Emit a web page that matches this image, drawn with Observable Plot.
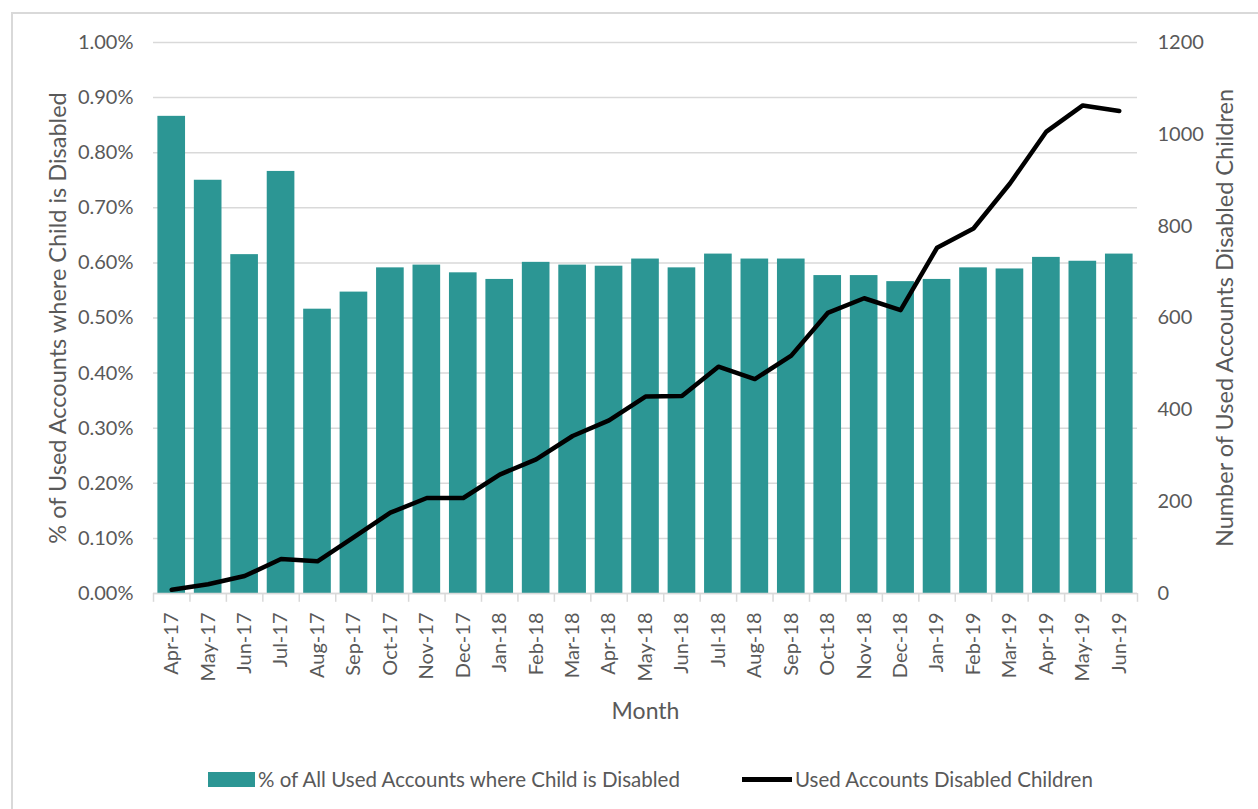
<!DOCTYPE html>
<html>
<head>
<meta charset="utf-8">
<script src="https://cdn.jsdelivr.net/npm/d3@7"></script>
<script src="https://cdn.jsdelivr.net/npm/@observablehq/plot@0.6"></script>
<style>
  body { margin: 0; background: #fff; font-family: Lato, "Open Sans", sans-serif; }
  #wrap { position: relative; width: 1258px; height: 809px; overflow: hidden; background: #fff; }
  #frame { position: absolute; left: 11px; top: 12px; width: 1300px; height: 900px; border: 2px solid #d9d9d9; box-sizing: border-box; }
  #chart { position: absolute; left: 0; top: 0; }
  .lg { position: absolute; top: 765px; font-size: 20.5px; color: #595959; white-space: nowrap; line-height: 28px; }
  .sw { position: absolute; }
</style>
</head>
<body>
<div id="wrap">
  <div id="frame"></div>
  <div id="chart"></div>
  <div id="legend"></div>
</div>
<script>
// ---- data ----
const months = ["Apr-17","May-17","Jun-17","Jul-17","Aug-17","Sep-17","Oct-17","Nov-17","Dec-17",
  "Jan-18","Feb-18","Mar-18","Apr-18","May-18","Jun-18","Jul-18","Aug-18","Sep-18","Oct-18","Nov-18","Dec-18",
  "Jan-19","Feb-19","Mar-19","Apr-19","May-19","Jun-19"];
// % of all used accounts where child is disabled (percent units)
const pctDisabled = [0.866,0.750,0.615,0.766,0.516,0.547,0.591,0.596,0.582,
  0.570,0.601,0.596,0.594,0.607,0.591,0.616,0.607,0.607,0.577,0.577,0.566,
  0.570,0.591,0.589,0.610,0.603,0.616];
// number of used accounts disabled children
const countDisabled = [8,20,38,75,70,123,176,208,208,
  259,292,343,377,429,430,494,467,518,611,643,617,
  753,795,893,1006,1063,1051];
const leftTicks = [0,0.1,0.2,0.3,0.4,0.5,0.6,0.7,0.8,0.9,1.0];
const rightTicks = [0,200,400,600,800,1000,1200];
const leftMax = 1.0, rightMax = 1200;
const barName = "% of All Used Accounts where Child is Disabled";
const lineName = "Used Accounts Disabled Children";
const leftTitle = "% of Used Accounts where Child is Disabled";
const rightTitle = "Number of Used Accounts Disabled Children";
const xTitle = "Month";

const data = months.map((m, i) => ({month: m, pct: pctDisabled[i], count: countDisabled[i]}));
const toLeft = v => v / rightMax * leftMax;

const teal = "#2C9694";
const grid = "#d9d9d9";
const txt = "#595959";
const halfStep = 984 / months.length / 2;

const chart = Plot.plot({
  width: 1258,
  height: 740,
  marginTop: 42,
  marginBottom: 147,
  marginLeft: 153,
  marginRight: 121,
  style: {fontFamily: "Lato, 'Open Sans', sans-serif", background: "transparent"},
  x: {domain: months, padding: 0, round: false},
  y: {domain: [0, leftMax]},
  marks: [
    Plot.gridY(leftTicks, {stroke: grid, strokeOpacity: 1, strokeWidth: 1.5}),
    Plot.barY(data, {x: "month", y: "pct", fill: teal, insetLeft: 4.4, insetRight: 4.4}),
    Plot.ruleY([0], {stroke: grid, strokeWidth: 1.5}),
    Plot.ruleX(months, {x: d => d, dx: -halfStep, y1: 0, y2: -0.016, stroke: grid, strokeWidth: 1.5}),
    Plot.ruleX([months[months.length - 1]], {x: d => d, dx: halfStep, y1: 0, y2: -0.016, stroke: grid, strokeWidth: 1.5}),
    Plot.line(data, {x: "month", y: d => toLeft(d.count), stroke: "#000", strokeWidth: 4.5, strokeLinejoin: "round", strokeLinecap: "round"}),
    Plot.axisY({anchor: "left", ticks: leftTicks, tickFormat: d => d.toFixed(2) + "%", tickSize: 0, tickPadding: 20, fontSize: 20, color: txt, label: null}),
    Plot.axisY({anchor: "right", ticks: rightTicks.map(toLeft), tickFormat: d => String(Math.round(d / leftMax * rightMax)), tickSize: 0, tickPadding: 20, fontSize: 20, color: txt, label: null}),
    Plot.axisX({tickRotate: -90, tickSize: 0, tickPadding: 19, fontSize: 20, color: txt, label: null}),
    Plot.text([xTitle], {frameAnchor: "bottom", dy: 125, fontSize: 23, fill: txt}),
    Plot.text([leftTitle], {frameAnchor: "left", textAnchor: "middle", rotate: -90, dx: -95, fontSize: 23.5, fill: txt}),
    Plot.text([rightTitle], {frameAnchor: "right", textAnchor: "middle", rotate: -90, dx: 88, fontSize: 23.5, fill: txt})
  ]
});
document.getElementById("chart").appendChild(chart);

// legend
const lg = document.getElementById("legend");
lg.innerHTML = `
  <div class="sw" style="left:208px;top:772px;width:47px;height:15px;background:${teal}"></div>
  <div class="lg" style="left:258px">${barName}</div>
  <div class="sw" style="left:742px;top:777px;width:50px;height:5px;background:#000"></div>
  <div class="lg" style="left:795px">${lineName}</div>`;
</script>
</body>
</html>
